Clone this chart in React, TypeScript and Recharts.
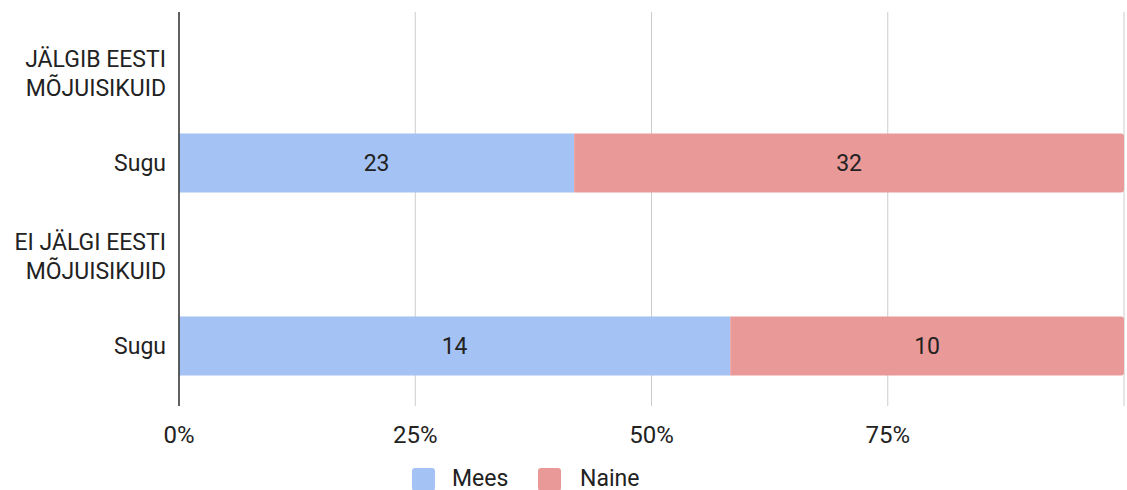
import React from "react";
import { BarChart, Bar, XAxis, YAxis, CartesianGrid, LabelList } from "recharts";

const categories = ["JÄLGIB EESTI MÕJUISIKUID", "Sugu", "EI JÄLGI EESTI MÕJUISIKUID", "Sugu"];
const mees: (number | null)[] = [null, 23, null, 14];
const naine: (number | null)[] = [null, 32, null, 10];
const xTicks = [0, 0.25, 0.5, 0.75, 1];
const seriesNames = ["Mees", "Naine"];
const seriesColors = ["#a4c2f4", "#ea9999"];

const data = categories.map((name, i) => ({ key: String(i), name, mees: mees[i], naine: naine[i] }));

const FONT = "Roboto, 'Noto Sans', sans-serif";
const FS = 23;

function wrap(label: string, max: number): string[] {
  const words = label.split(" ");
  const lines: string[] = [];
  let cur = "";
  for (const w of words) {
    const t = cur ? cur + " " + w : w;
    if (t.length > max && cur) {
      lines.push(cur);
      cur = w;
    } else cur = t;
  }
  if (cur) lines.push(cur);
  return lines;
}

const YTick = (props: any) => {
  const { y, payload } = props;
  const label = categories[Number(payload.value)];
  const lines = wrap(label, 14);
  const n = lines.length;
  const off = n > 1 ? 1.5 : 0;
  return (
    <text x={166} y={y} textAnchor="end" fill="#222" fontSize={FS} fontFamily={FONT}>
      {lines.map((l, i) => (
        <tspan key={i} x={166} y={y + off + (i - (n - 1) / 2) * 29.5} dy="0.355em">
          {l}
        </tspan>
      ))}
    </text>
  );
};

const fmtLabel = (v: any) => (v === null || v === undefined || v === 0 ? "" : String(v));

export default function App() {
  return (
    <div style={{ position: "absolute", left: 0, top: 0, width: 1127, height: 490, overflow: "hidden", background: "#fff", fontFamily: FONT }}>
      <BarChart
        width={1127}
        height={490}
        data={data}
        layout="vertical"
        stackOffset="expand"
        margin={{ top: 12, right: 3, left: 0, bottom: 54 }}
        barSize={59}
      >
        <CartesianGrid horizontal={false} vertical={true} stroke="#cccccc" />
        <XAxis
          type="number"
          domain={[0, 1]}
          ticks={xTicks}
          tickFormatter={(v: number) => (v < 1 ? `${Math.round(v * 100)}%` : "")}
          axisLine={false}
          tickLine={false}
          tickMargin={14}
          height={30}
          tick={{ fill: "#222", fontSize: 24, fontFamily: FONT }}
          interval={0}
        />
        <YAxis
          type="category"
          dataKey="key"
          width={179}
          axisLine={{ stroke: "#333", strokeWidth: 1.5 }}
          tickLine={false}
          padding={{ top: 14, bottom: 14 }}
          tick={<YTick />}
          interval={0}
        />
        <Bar dataKey="mees" name={seriesNames[0]} stackId="a" fill={seriesColors[0]} isAnimationActive={false}>
          <LabelList dataKey="mees" position="center" fill="#222" fontSize={FS} fontFamily={FONT} formatter={fmtLabel} />
        </Bar>
        <Bar dataKey="naine" name={seriesNames[1]} stackId="a" fill={seriesColors[1]} radius={[0, 3, 3, 0]} isAnimationActive={false}>
          <LabelList dataKey="naine" position="center" fill="#222" fontSize={FS} fontFamily={FONT} formatter={fmtLabel} />
        </Bar>
      </BarChart>
      <div style={{ position: "absolute", left: 412, top: 468, width: 23, height: 23, borderRadius: 3, background: seriesColors[0] }} />
      <div style={{ position: "absolute", left: 452, top: 467, fontSize: FS, lineHeight: "23px", color: "#222", whiteSpace: "nowrap" }}>{seriesNames[0]}</div>
      <div style={{ position: "absolute", left: 538, top: 468, width: 23, height: 23, borderRadius: 3, background: seriesColors[1] }} />
      <div style={{ position: "absolute", left: 580, top: 467, fontSize: FS, lineHeight: "23px", color: "#222", whiteSpace: "nowrap" }}>{seriesNames[1]}</div>
    </div>
  );
}
